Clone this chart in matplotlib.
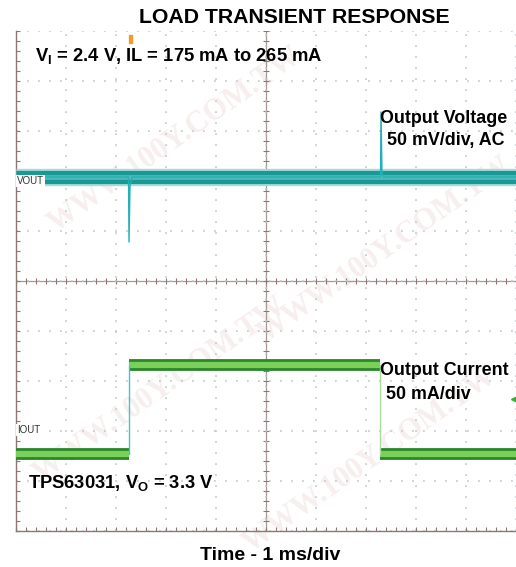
import numpy as np
import matplotlib
matplotlib.use("Agg")
import matplotlib.pyplot as plt
from matplotlib.patches import Rectangle

plt.rcParams['font.family'] = ['Liberation Sans', 'DejaVu Sans']
plt.rcParams['mathtext.fontset'] = 'custom'
plt.rcParams['mathtext.rm'] = 'Liberation Sans:bold'

# ---- data (scope divisions: 1 ms/div horizontally, 10 x 10 grid) ----
vout_level = 7.08
vout_t = [0, 2.25, 2.26, 2.28, 2.32, 7.29, 7.30, 7.32, 7.36, 10]
vout_v = [7.08, 7.08, 5.78, 6.90, 7.08, 7.08, 8.38, 7.15, 7.08, 7.08]

iout_t = [0, 2.26, 2.26, 7.28, 7.28, 10]
iout_v = [1.55, 1.55, 3.32, 3.32, 1.54, 1.54]

trigger_t = 2.26
iout_marker_v = 2.64

W, H = 516, 567


def fx(px):
    return px / W


def fy(py):
    return 1 - py / H


fig = plt.figure(figsize=(W / 100, H / 100), dpi=100)

# faint watermark (below the axes)
for (wx, wy) in [(175, 140), (385, 250), (160, 390), (370, 460)]:
    fig.text(fx(wx), fy(wy), "WWW.100Y.COM.TW", rotation=35, ha='center', va='center',
             fontsize=22, fontweight='bold', family=['Liberation Serif', 'DejaVu Serif'],
             color='#f7eeee', zorder=-5)

ax = fig.add_axes([fx(16), fy(531), 500 / W, 500 / H])
ax.patch.set_alpha(0)
ax.set_zorder(2)
ax.set_xlim(0, 10)
ax.set_ylim(0, 10)

# grid
ax.set_xticks(np.arange(0, 11, 1))
ax.set_yticks(np.arange(0, 11, 1))
ax.set_xticks(np.arange(0, 10.01, 0.2), minor=True)
ax.set_yticks(np.arange(0, 10.01, 0.2), minor=True)
ax.grid(which='major', color='#bfc9d0', linestyle=(0, (1.2, 6.0)), linewidth=1.1)
ax.tick_params(which='both', direction='in', length=3, width=0.8, color='#8c7773',
               labelleft=False, labelbottom=False)
for s in ['top', 'right']:
    ax.spines[s].set_visible(False)
for s in ['left', 'bottom']:
    ax.spines[s].set_color('#8c7773')
    ax.spines[s].set_linewidth(1.0)

# centre cross with tick marks
ax.axhline(5, color='#a89894', lw=0.9, zorder=1)
ax.axvline(5, color='#a89894', lw=0.9, zorder=1)
ct = np.arange(0, 10.01, 0.2)
ax.vlines(ct, 5 - 0.06, 5 + 0.06, color='#8c7773', lw=0.8, zorder=1)
ax.hlines(ct, 5 - 0.06, 5 + 0.06, color='#8c7773', lw=0.8, zorder=1)

# output voltage trace
ax.plot([0, 10], [vout_level, vout_level], color='#a6dcd9', lw=12.5,
        solid_capstyle='butt', zorder=3)
ax.plot([0, 10], [vout_level, vout_level], color='#1a9895', lw=9.5,
        solid_capstyle='butt', zorder=3)
ax.plot([0, 10], [vout_level, vout_level], color='#4cbab5', lw=3.5,
        solid_capstyle='butt', zorder=3)
ax.plot(vout_t, vout_v, color='#25b0b8', lw=1.0, zorder=4)

# output current trace
for i in range(0, len(iout_t), 2):
    seg_t = iout_t[i:i + 2]
    seg_v = iout_v[i:i + 2]
    ax.plot(seg_t, seg_v, color='#2a872a', lw=8.5, solid_capstyle='butt', zorder=3)
    ax.plot(seg_t, seg_v, color='#7ad058', lw=4.5, solid_capstyle='butt', zorder=3)
ax.plot(iout_t[1:3], iout_v[1:3], color='#3cc8c8', lw=1.0, zorder=4)
ax.plot(iout_t[3:5], iout_v[3:5], color='#a8dca0', lw=1.0, zorder=4)

# trigger marker and channel markers
ax.add_patch(Rectangle((trigger_t, 9.76), 0.06, 0.16, color='#f39a2a', zorder=5,
                       clip_on=False))
ax.plot([9.96], [iout_marker_v], marker='<', color='#3aaa3a', ms=4, zorder=5,
        clip_on=False)

# channel labels
fig.text(fx(17), fy(181), "VOUT", fontsize=7, color='#333333', va='center', ha='left',
         family=['Liberation Sans Narrow', 'Liberation Sans'],
         bbox=dict(facecolor='white', edgecolor='none', pad=0.6), zorder=6)
fig.text(fx(17), fy(430), "IOUT", fontsize=7, color='#333333', va='center', ha='left',
         family=['Liberation Sans Narrow', 'Liberation Sans'],
         bbox=dict(facecolor='white', edgecolor='none', pad=0.6), zorder=6)

# texts
fig.text(fx(294), fy(23), "LOAD TRANSIENT RESPONSE", fontsize=15.3, fontweight='bold',
         ha='center', va='baseline', zorder=6)
fig.text(fx(35), fy(61), r"V$_\mathrm{I}$ = 2.4 V, IL = 175 mA to 265 mA", fontsize=13.2,
         fontweight='bold', ha='left', va='baseline', zorder=6)
fig.text(fx(380), fy(123), "Output Voltage", fontsize=12.9, fontweight='bold',
         ha='left', va='baseline', zorder=6)
fig.text(fx(387), fy(145), "50 mV/div, AC", fontsize=12.9, fontweight='bold',
         ha='left', va='baseline', zorder=6)
fig.text(fx(380), fy(375), "Output Current", fontsize=12.9, fontweight='bold',
         ha='left', va='baseline', zorder=6)
fig.text(fx(386), fy(399), "50 mA/div", fontsize=12.9, fontweight='bold',
         ha='left', va='baseline', zorder=6)
fig.text(fx(28), fy(488), r"TPS63031, V$_\mathrm{O}$ = 3.3 V", fontsize=13.2,
         fontweight='bold', ha='left', va='baseline', zorder=6)
fig.text(fx(270), fy(560), "Time - 1 ms/div", fontsize=14, fontweight='bold',
         ha='center', va='baseline', zorder=6)

fig.savefig("out.png", dpi=100)
